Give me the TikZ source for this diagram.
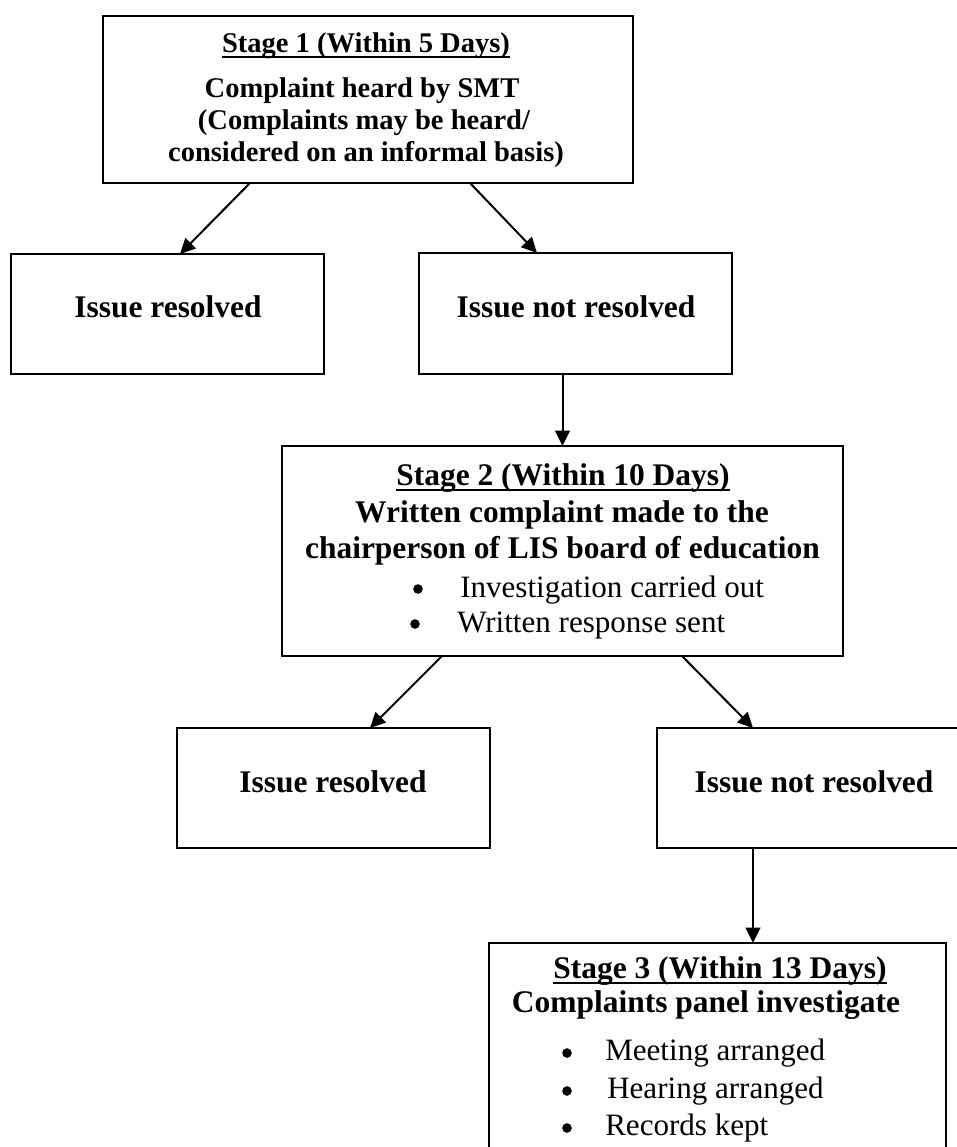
\documentclass[tikz,border=0pt]{standalone}
\usepackage{fontspec}
\setmainfont{Liberation Serif}
\usetikzlibrary{arrows.meta,calc}
\newcommand\myul[1]{\setbox0\hbox{#1}\rlap{\rule[-0.2em]{\wd0}{0.06em}}\box0}
\begin{document}
\begin{tikzpicture}[x=0.75pt,y=-0.75pt,
  box/.style={draw, line width=1.5pt, inner sep=0pt, outer sep=0pt, rectangle},
  bt/.style={font=\fontsize{23.6pt}{28pt}\selectfont\bfseries, anchor=base, inner sep=0pt},
  st/.style={font=\fontsize{21.4pt}{26pt}\selectfont\bfseries, anchor=base, inner sep=0pt},
  rt/.style={font=\fontsize{23.3pt}{28pt}\selectfont, anchor=base west, inner sep=0pt},
  dot/.style={circle, fill, draw=none, inner sep=0pt, minimum size=7.2pt},
  arr/.style={line width=1.5pt, -{Triangle[length=11.5pt,width=11pt]}}]
\useasboundingbox (0,0) rectangle (957,1147);
\clip (0,0) rectangle (957,1147);

% boxes
\node[box, minimum width={530*0.75pt}, minimum height={167*0.75pt}] (s1) at (368,99.5) {};
\node[box, minimum width={313*0.75pt}, minimum height={120*0.75pt}] (ir1) at (167.5,314) {};
\node[box, minimum width={313*0.75pt}, minimum height={121*0.75pt}] (inr1) at (575.5,313.5) {};
\node[box, minimum width={561*0.75pt}, minimum height={210*0.75pt}] (s2) at (562.5,551) {};
\node[box, minimum width={313*0.75pt}, minimum height={120*0.75pt}] (ir2) at (333.5,788) {};
\node[box, minimum width={314*0.75pt}, minimum height={120*0.75pt}] (inr2) at (814,788) {};
\node[box, minimum width={457*0.75pt}, minimum height={257*0.75pt}] (s3) at (717.5,1071.5) {};

% stage 1 text
\node[st] (s1t) at (366,52) {\myul{Stage 1 (Within 5 Days)}};
\node[st] (s1a) at (362,97) {Complaint heard by SMT};
\node[st] (s1b) at (364,129) {(Complaints may be heard/};
\node[st] (s1c) at (366,161) {considered on an informal basis)};

% issue boxes text
\node[bt] (ir1t) at (168,317) {Issue resolved};
\node[bt] (inr1t) at (576,317) {Issue not resolved};
\node[bt] (ir2t) at (333,792) {Issue resolved};
\node[bt] (inr2t) at (814,792) {Issue not resolved};

% stage 2 text
\node[bt] (s2t) at (563,485) {\myul{Stage 2 (Within 10 Days)}};
\node[bt] (s2a) at (562,522) {Written complaint made to the};
\node[bt] (s2b) at (562.5,558) {chairperson of LIS board of education};
\node[dot] (s2b1) at (418,589) {};
\node[rt] (s2i1) at (460,597) {Investigation carried out};
\node[dot] (s2b2) at (415,624) {};
\node[rt] (s2i2) at (457,632) {Written response sent};

% stage 3 text
\node[bt] (s3t) at (720,978) {\myul{Stage 3 (Within 13 Days)}};
\node[bt] (s3a) at (706,1012) {Complaints panel investigate};
\node[dot] (s3b1) at (567,1053) {};
\node[rt] (s3i1) at (605,1060) {Meeting arranged};
\node[dot] (s3b2) at (567,1091) {};
\node[rt] (s3i2) at (607,1098) {Hearing arranged};
\node[dot] (s3b3) at (567,1128) {};
\node[rt] (s3i3) at (605,1135) {Records kept};

% connectors
\draw[arr] ($(s1.south)+(-118,0)$) -- ($(ir1.north)+(12.5,0)$);
\draw[arr] ($(s1.south)+(102,0)$) -- ($(inr1.north)+(-38.5,0)$);
\draw[arr] (s2.north |- inr1.south) -- (s2.north);
\draw[arr] ($(s2.south)+(-120.5,0)$) -- ($(ir2.north)+(36.5,0)$);
\draw[arr] ($(s2.south)+(119.5,0)$) -- ($(inr2.north)+(-61,0)$);
\draw[arr] ($(inr2.south)+(-61,0)$) -- ($(s3.north)+(35.5,0)$);
\end{tikzpicture}
\end{document}
